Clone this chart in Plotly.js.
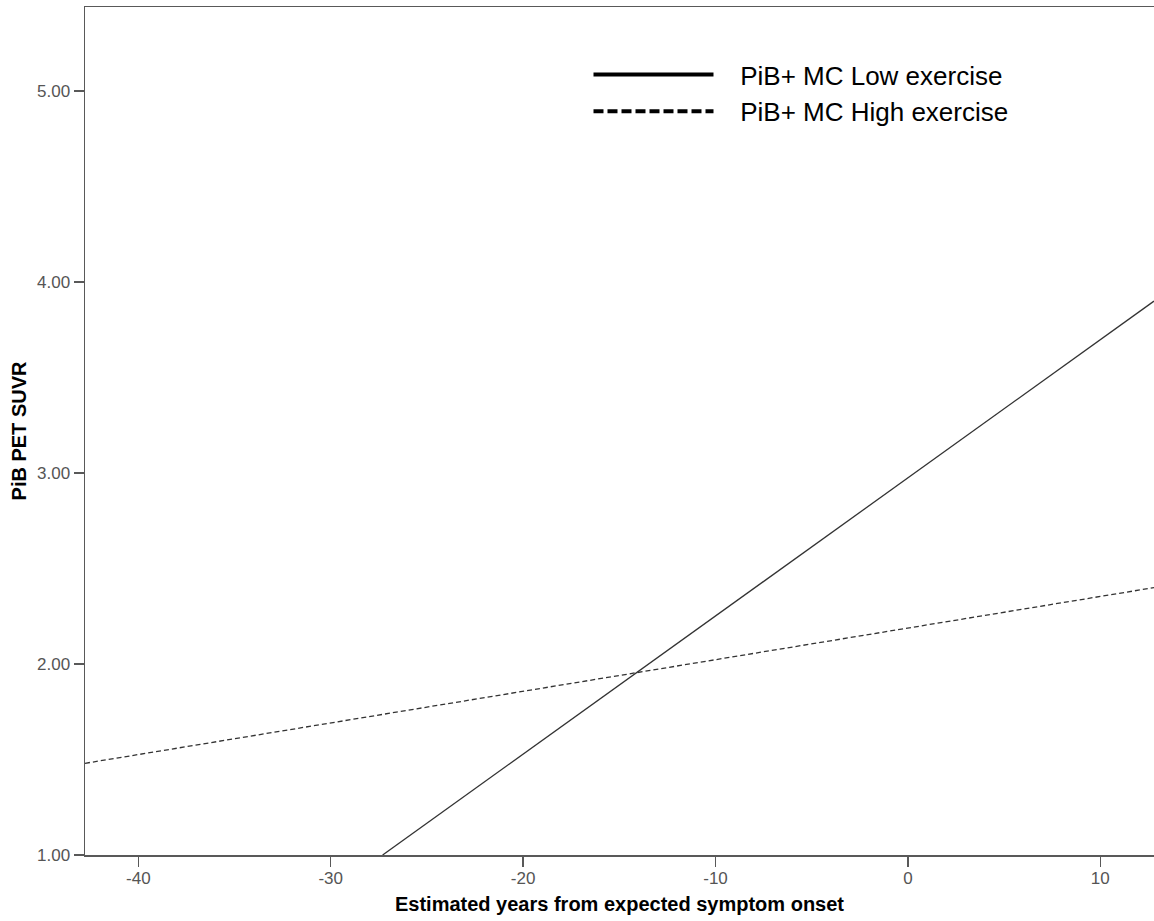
<!DOCTYPE html>
<html>
<head>
<meta charset="utf-8">
<script src="https://cdn.plot.ly/plotly-3.0.1.min.js"></script>
<style>html,body{margin:0;padding:0;background:#fff}#chart{width:1154px;height:921px}</style>
</head>
<body>
<div id="chart"></div>
<script>
// Data
const lowX = [-27.3, 12.79];
const lowY = [1.00, 3.90];
const highX = [-42.77, 12.79];
const highY = [1.48, 2.40];
const seriesNames = ["PiB+ MC Low exercise", "PiB+ MC High exercise"];
const xTicks = [-40, -30, -20, -10, 0, 10];
const yTicks = [1, 2, 3, 4, 5];

const pad = '\u00a0\u00a0\u00a0';
const traces = [
  {x: lowX, y: lowY, mode: 'lines', line: {color: '#333', width: 1.3}, showlegend: false, hoverinfo: 'skip'},
  {x: highX, y: highY, mode: 'lines', line: {color: '#333', width: 1.3, dash: '5px,3px'}, showlegend: false, hoverinfo: 'skip'},
  {x: [null], y: [null], mode: 'lines', name: pad + seriesNames[0], legendgroup: 'a', line: {color: '#000', width: 4}},
  {x: [null], y: [null], mode: 'lines', name: pad + seriesNames[1], legendgroup: 'b', line: {color: '#000', width: 4, dash: '10px,4px'}}
];

const layout = {
  width: 1154, height: 921,
  margin: {l: 85, r: 0, t: 7, b: 66},
  paper_bgcolor: '#fff', plot_bgcolor: '#fff',
  font: {family: 'Arial, "Liberation Sans", sans-serif'},
  xaxis: {
    range: [-42.77, 12.79], tickvals: xTicks, ticktext: xTicks.map(String),
    showgrid: false, zeroline: false, showline: true, mirror: true,
    linecolor: '#595959', linewidth: 1.5,
    ticks: 'outside', ticklen: 10, tickcolor: '#595959', tickwidth: 1.5,
    tickfont: {size: 17, color: '#555'}, ticklabelstandoff: -3,
    title: {text: '<b>Estimated years from expected symptom onset</b>', font: {size: 20, color: '#000'}, standoff: 10}
  },
  yaxis: {
    range: [1, 5.44], tickvals: yTicks, ticktext: yTicks.map(v => v.toFixed(2)),
    showgrid: false, zeroline: false, showline: true,
    linecolor: '#595959', linewidth: 1.5,
    ticks: 'outside', ticklen: 10, tickcolor: '#595959', tickwidth: 1.5,
    tickfont: {size: 17, color: '#555'},
    title: {text: '<b>PiB PET SUVR</b>', font: {size: 20, color: '#000'}, standoff: 5}
  },
  legend: {
    x: 0.471, xanchor: 'left', y: 0.948, yanchor: 'top',
    bgcolor: 'rgba(0,0,0,0)', borderwidth: 0,
    font: {size: 26, color: '#000'}, itemwidth: 120,
    traceorder: 'grouped', tracegroupgap: 0
  },
  showlegend: true
};

Plotly.newPlot('chart', traces, layout, {displayModeBar: false, staticPlot: true});
</script>
</body>
</html>
